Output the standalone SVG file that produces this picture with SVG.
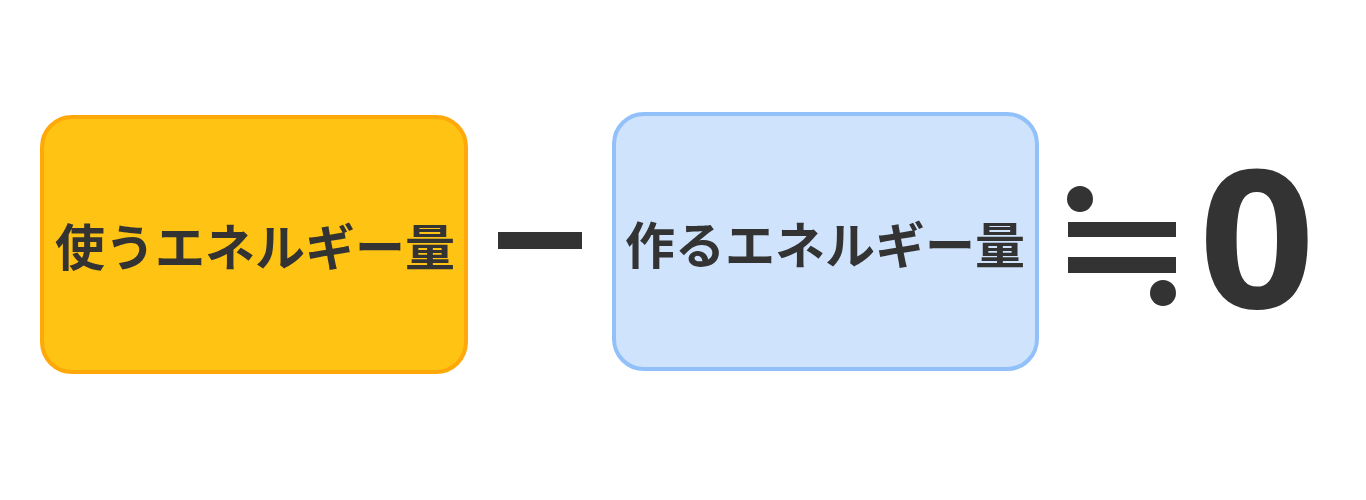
<svg xmlns="http://www.w3.org/2000/svg" width="1366" height="500" viewBox="0 0 1366 500">
<style>
.box{stroke-width:4}
.lbl{font-family:"Noto Sans CJK JP","Noto Sans",sans-serif;font-weight:700;font-size:50px;fill:#333;text-anchor:middle;dominant-baseline:central}
.sym{fill:#333}
</style>
<rect width="1366" height="500" fill="#fff"/>
<g id="use-energy">
<rect class="box" x="42" y="117" width="424" height="255" rx="30" fill="#ffc313" stroke="#ffa80a"/>
<text class="lbl" x="255" y="244">使うエネルギー量</text>
</g>
<g id="minus">
<rect class="sym" x="498" y="232" width="84" height="17"/>
</g>
<g id="make-energy">
<rect class="box" x="614" y="114" width="423" height="255" rx="30" fill="#cfe3fd" stroke="#92c0f8"/>
<text class="lbl" x="825" y="242">作るエネルギー量</text>
</g>
<g id="approx-zero">
<circle class="sym" cx="1080" cy="199" r="13"/>
<rect class="sym" x="1068" y="222" width="108" height="15"/>
<rect class="sym" x="1068" y="257" width="108" height="16"/>
<circle class="sym" cx="1163" cy="293" r="13"/>
<text x="1257" y="308" text-anchor="middle" font-family="'Open Sans',sans-serif" font-weight="700" font-size="192" fill="#333" transform="translate(1257 0) scale(1.06 1) translate(-1257 0)">0</text>
</g>
<g id="connectors"></g>
</svg>
